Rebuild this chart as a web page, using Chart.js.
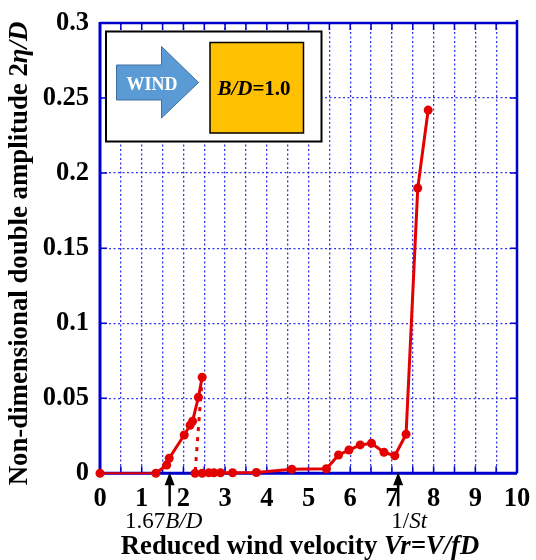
<!DOCTYPE html>
<html>
<head>
<meta charset="utf-8">
<script src="https://cdn.jsdelivr.net/npm/chart.js@4/dist/chart.umd.min.js"></script>
<style>
  html, body { margin: 0; padding: 0; background: #fff; }
  #wrap { width: 536px; height: 560px; position: relative; }
</style>
</head>
<body>
<div id="wrap"><canvas id="c"></canvas></div>
<script>
// Double amplitude of a B/D = 1.0 section against reduced wind velocity.
// Upper branch (vortex-induced response), lower branch and the drop between them.
const upperVr  = [0, 1.34, 1.60, 1.66, 2.02, 2.16, 2.22, 2.36, 2.45];
const upperAmp = [0, 0, 0.0055, 0.0100, 0.0255, 0.0320, 0.0347, 0.0507, 0.0640];

const lowerVr  = [2.28, 2.45, 2.61, 2.73, 2.89, 3.18, 3.75, 4.60, 5.43, 5.72, 5.97, 6.24, 6.51, 6.81, 7.07, 7.34, 7.62, 7.87];
const lowerAmp = [0, 0, 0.0003, 0.0004, 0.0004, 0.0004, 0.0005, 0.0027, 0.0030, 0.0122, 0.0155, 0.0189, 0.0200, 0.0140, 0.0117, 0.0260, 0.1900, 0.2420];

const dropVr  = [2.45, 2.28];
const dropAmp = [0.0640, 0];

const xTickLabels = ['0', '1', '2', '3', '4', '5', '6', '7', '8', '9', '10'];
const yTickLabels = ['0', '0.05', '0.1', '0.15', '0.2', '0.25', '0.3'];

// Reference velocities marked under the axis
const markerVr = [1.67, 7.15];
const markerText = [
  [{ t: '1.67' }, { t: 'B/D', i: true }],
  [{ t: '1/' }, { t: 'St', i: true }]
];

const SERIF = "'Liberation Serif', 'Times New Roman', serif";
const RED = '#e30000';
const BLUE = '#0000cc';

function fnt(size, bold, italic) {
  return (italic ? 'italic ' : '') + (bold ? 'bold ' : '') + size + 'px ' + SERIF;
}
function richWidth(ctx, parts, size) {
  let w = 0;
  for (const p of parts) { ctx.font = fnt(size, p.b, p.i); w += ctx.measureText(p.t).width; }
  return w;
}
function drawRich(ctx, parts, cx, y, size) {
  let x = cx - richWidth(ctx, parts, size) / 2;
  ctx.textAlign = 'left';
  for (const p of parts) {
    ctx.font = fnt(size, p.b, p.i);
    ctx.fillText(p.t, x, y);
    x += ctx.measureText(p.t).width;
  }
}
const toPts = (xs, ys) => xs.map((x, k) => ({ x: x, y: ys[k] }));

// Frame, inward ticks and the inset sketch of the section
const framePlugin = {
  id: 'frame',
  beforeDatasetsDraw(chart) {
    const { ctx, chartArea: a, scales: { x, y } } = chart;
    ctx.save();
    ctx.strokeStyle = BLUE;
    ctx.lineWidth = 1.5;
    ctx.beginPath();
    for (let v = 0; v <= 10.0001; v += 0.5) {
      const px = x.getPixelForValue(v);
      ctx.moveTo(px, a.bottom); ctx.lineTo(px, a.bottom - 7);
      ctx.moveTo(px, a.top); ctx.lineTo(px, a.top + 7);
    }
    for (let k = 0; k < yTickLabels.length; k++) {
      const py = y.getPixelForValue(k * 0.05);
      ctx.moveTo(a.left, py); ctx.lineTo(a.left + 7, py);
      ctx.moveTo(a.right, py); ctx.lineTo(a.right - 7, py);
    }
    ctx.stroke();

    ctx.lineWidth = 2.5;
    ctx.beginPath();
    ctx.moveTo(a.left, a.top); ctx.lineTo(a.right, a.top);
    ctx.moveTo(a.right, a.top - 3); ctx.lineTo(a.right, a.bottom);
    ctx.stroke();
    ctx.lineWidth = 3;
    ctx.beginPath();
    ctx.moveTo(a.left, a.top - 1); ctx.lineTo(a.left, a.bottom);
    ctx.lineTo(a.right, a.bottom);
    ctx.stroke();

    // inset: wind arrow and the square section
    const L = a.left, T = a.top;
    ctx.fillStyle = '#fff';
    ctx.fillRect(L + 6, T + 8.5, 215.5, 110);
    ctx.strokeStyle = '#000';
    ctx.lineWidth = 2;
    ctx.strokeRect(L + 6, T + 8.5, 215.5, 110);

    ctx.beginPath();
    ctx.moveTo(L + 16.5, T + 42);
    ctx.lineTo(L + 61.5, T + 42);
    ctx.lineTo(L + 61.5, T + 23.5);
    ctx.lineTo(L + 98.5, T + 59.5);
    ctx.lineTo(L + 61.5, T + 95);
    ctx.lineTo(L + 61.5, T + 77);
    ctx.lineTo(L + 16.5, T + 77);
    ctx.closePath();
    ctx.fillStyle = '#5b9bd5';
    ctx.fill();
    ctx.strokeStyle = '#3f6f9e';
    ctx.lineWidth = 1;
    ctx.stroke();
    ctx.fillStyle = '#fff';
    ctx.textBaseline = 'alphabetic';
    drawRich(ctx, [{ t: 'WIND', b: true }], L + 52, T + 67, 18);

    ctx.fillStyle = '#ffc000';
    ctx.fillRect(L + 110, T + 19.5, 93.5, 90.5);
    ctx.strokeStyle = '#000';
    ctx.lineWidth = 1.5;
    ctx.strokeRect(L + 110, T + 19.5, 93.5, 90.5);
    ctx.fillStyle = '#000';
    drawRich(ctx, [{ t: 'B/D', b: true, i: true }, { t: '=1.0', b: true }], L + 154, T + 72, 21);
    ctx.restore();
  },
  afterDraw(chart) {
    const { ctx, chartArea: a, scales: { x } } = chart;
    ctx.save();
    ctx.fillStyle = '#000';
    ctx.strokeStyle = '#000';
    ctx.textBaseline = 'alphabetic';
    markerVr.forEach((v, k) => {
      const px = x.getPixelForValue(v);
      ctx.lineWidth = 2.5;
      ctx.beginPath();
      ctx.moveTo(px, a.bottom + 8); ctx.lineTo(px, a.bottom + 33);
      ctx.stroke();
      ctx.beginPath();
      ctx.moveTo(px, a.bottom - 1);
      ctx.lineTo(px - 5, a.bottom + 12);
      ctx.lineTo(px + 5, a.bottom + 12);
      ctx.closePath();
      ctx.fill();
      drawRich(ctx, markerText[k], px + (k === 0 ? -6 : 11), a.bottom + 55, 23);
    });

    drawRich(ctx, [{ t: 'Reduced wind velocity ', b: true }, { t: 'Vr=V/fD', b: true, i: true }],
             300, 554, 26.7);

    ctx.translate(27, 253.5);
    ctx.rotate(-Math.PI / 2);
    drawRich(ctx, [{ t: 'Non-dimensional double amplitude 2', b: true }, { t: 'η/D', b: true, i: true }],
             0, 0, 26.8);
    ctx.restore();
  }
};

new Chart(document.getElementById('c'), {
  type: 'scatter',
  data: {
    datasets: [
      {
        data: toPts(dropVr, dropAmp),
        showLine: true,
        borderColor: RED,
        borderWidth: 3,
        borderDash: [4, 6],
        pointRadius: 0,
        clip: false
      },
      {
        data: toPts(upperVr, upperAmp),
        showLine: true,
        borderColor: RED,
        backgroundColor: RED,
        borderWidth: 3,
        segment: { borderWidth: c => (c.p0DataIndex === 0 ? 2 : 3) },
        pointRadius: 4.5,
        pointBorderWidth: 0,
        clip: false
      },
      {
        data: toPts(lowerVr, lowerAmp),
        showLine: true,
        borderColor: RED,
        backgroundColor: RED,
        borderWidth: 3,
        pointRadius: 4.5,
        pointBorderWidth: 0,
        clip: false
      }
    ]
  },
  options: {
    responsive: true,
    maintainAspectRatio: false,
    animation: false,
    layout: { padding: { top: 23, right: 19, left: 0, bottom: 0 } },
    plugins: { legend: { display: false }, tooltip: { enabled: false } },
    scales: {
      x: {
        type: 'linear',
        min: 0, max: 10,
        afterFit: s => { s.height = 86.7; s.paddingLeft = 0; s.paddingRight = 0; },
        grid: { color: 'rgba(20,20,230,0.85)', lineWidth: 1.3, drawTicks: false },
        border: { display: false, dash: [2, 2.5] },
        ticks: {
          stepSize: 0.5,
          padding: 10,
          color: '#000',
          font: { family: SERIF, size: 26.5, weight: 'bold' },
          maxRotation: 0,
          autoSkip: false,
          callback: v => (Math.abs(v - Math.round(v)) < 1e-6 ? xTickLabels[Math.round(v)] : '')
        }
      },
      y: {
        type: 'linear',
        min: 0, max: 0.3,
        afterFit: s => { s.width = 100; s.paddingTop = 0; s.paddingBottom = 0; },
        grid: { color: 'rgba(20,20,230,0.85)', lineWidth: 1.3, drawTicks: false },
        border: { display: false, dash: [2, 2.5] },
        ticks: {
          stepSize: 0.05,
          padding: 11,
          color: '#000',
          font: { family: SERIF, size: 26.5, weight: 'bold' },
          autoSkip: false,
          callback: v => yTickLabels[Math.round(v / 0.05)]
        }
      }
    }
  },
  plugins: [framePlugin]
});
</script>
</body>
</html>
